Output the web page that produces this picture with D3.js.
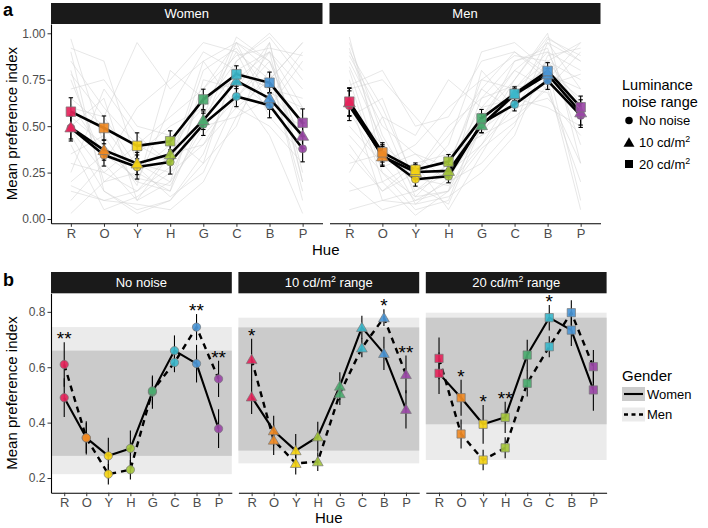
<!DOCTYPE html>
<html><head><meta charset="utf-8">
<script src="https://cdn.jsdelivr.net/npm/d3@7"></script>
<style>body{margin:0;background:#fff}svg{font-family:"Liberation Sans",Arial,Helvetica,sans-serif}</style>
</head><body><svg id="c" width="708" height="528"></svg>
<script>
// ---------- DATA ----------
const hues = ["R","O","Y","H","G","C","B","P"];
const hueColors = ["#e5245b","#f08a24","#f4d313","#a4c53b","#4bab6f","#3cb9cc","#4b96d6","#9a47a6"];
const genders = ["Women","Men"];
const noiseLegend = [["No noise",""],["10 cd/m","2"],["20 cd/m","2"]];
const stripB = [["No noise",""," "],["10 cd/m","2"," range"],["20 cd/m","2"," range"]];
const yTicksA = [0,0.25,0.5,0.75,1];
const yTicksB = [0.2,0.4,0.6,0.8];

const womenNone   = [0.490,0.345,0.280,0.307,0.510,0.660,0.613,0.378];
const womenNoneSE = [0.070,0.060,0.065,0.065,0.060,0.055,0.068,0.070];
const women10     = [0.493,0.371,0.299,0.349,0.532,0.744,0.650,0.448];
const women10SE   = [0.062,0.054,0.060,0.054,0.050,0.042,0.060,0.069];
const women20     = [0.578,0.490,0.394,0.419,0.644,0.779,0.734,0.518];
const women20SE   = [0.075,0.065,0.070,0.056,0.055,0.046,0.057,0.075];
const menNone     = [0.610,0.345,0.214,0.230,0.515,0.617,0.745,0.558];
const menNoneSE   = [0.080,0.055,0.037,0.035,0.050,0.035,0.047,0.065];
const men10       = [0.628,0.337,0.253,0.259,0.505,0.670,0.779,0.574];
const men10SE     = [0.075,0.054,0.040,0.034,0.041,0.034,0.030,0.068];
const men20       = [0.632,0.359,0.265,0.309,0.542,0.674,0.797,0.602];
const men20SE     = [0.075,0.052,0.037,0.038,0.048,0.038,0.045,0.060];

const sigNone = ["**","","","","","","**","**"];
const sig10   = ["*","","","","","","*","**"];
const sig20   = ["","*","*","**","","*","",""];

// individual participants (light grey lines), read approximately
const womenIndividuals = [
 [0.97,0.40,0.20,0.15,0.55,0.80,0.90,0.60],[0.92,0.85,0.30,0.25,0.40,0.70,0.95,0.20],
 [0.03,0.20,0.25,0.40,0.60,0.90,0.75,0.95],[0.75,0.30,0.10,0.20,0.70,0.95,0.85,0.40],
 [0.60,0.55,0.95,0.70,0.85,0.60,0.50,0.30],[0.45,0.15,0.05,0.10,0.30,0.85,0.98,0.75],
 [0.30,0.25,0.15,0.35,0.65,0.75,0.60,0.85],[0.85,0.60,0.40,0.30,0.50,0.95,0.80,0.10],
 [0.15,0.10,0.08,0.05,0.20,0.55,0.65,0.90],[0.55,0.40,0.20,0.60,0.90,0.80,0.70,0.45],
 [0.70,0.75,0.50,0.45,0.30,0.50,0.95,0.25],[0.20,0.35,0.30,0.20,0.45,0.65,0.90,0.70],
 [0.40,0.05,0.12,0.25,0.55,0.98,0.85,0.55],[0.65,0.50,0.25,0.15,0.75,0.70,0.45,0.03],
 [0.80,0.20,0.35,0.50,0.60,0.85,1.00,0.80],[0.10,0.30,0.60,0.75,0.95,0.90,0.55,0.35],
 [0.50,0.65,0.10,0.35,0.40,0.60,0.75,0.95],[0.35,0.45,0.18,0.80,0.65,0.75,0.90,0.20],
 [0.90,0.15,0.03,0.10,0.35,0.80,0.70,0.65],[0.25,0.70,0.45,0.30,0.85,0.95,0.60,0.50],
 [0.62,0.35,0.22,0.18,0.50,0.55,0.80,0.15],[0.48,0.25,0.40,0.55,0.70,0.88,0.92,0.88],
 [0.78,0.55,0.28,0.12,0.25,0.65,0.85,0.40],[0.18,0.10,0.15,0.28,0.80,0.92,0.68,0.60]
];
const menIndividuals = [
 [0.98,0.30,0.10,0.15,0.50,0.70,0.90,0.80],[0.90,0.60,0.20,0.25,0.40,0.60,0.85,0.95],
 [0.05,0.10,0.15,0.30,0.60,0.80,0.95,0.70],[0.80,0.25,0.05,0.10,0.55,0.75,1.00,0.30],
 [0.70,0.75,0.55,0.35,0.45,0.55,0.70,0.90],[0.40,0.15,0.30,0.05,0.35,0.65,0.80,0.60],
 [0.60,0.40,0.25,0.45,0.70,0.90,0.75,0.05],[0.85,0.50,0.35,0.20,0.30,0.50,0.95,0.85],
 [0.20,0.05,0.10,0.20,0.65,0.85,0.90,0.55],[0.75,0.20,0.02,0.15,0.80,0.60,0.65,0.45],
 [0.50,0.30,0.40,0.60,0.75,0.70,0.85,0.75],[0.95,0.45,0.15,0.25,0.55,0.80,0.70,0.20],
 [0.30,0.35,0.20,0.40,0.90,0.95,0.80,0.65],[0.65,0.10,0.08,0.12,0.25,0.45,0.88,0.92],
 [0.88,0.55,0.45,0.75,0.60,0.65,0.60,0.50],[0.15,0.20,0.30,0.35,0.45,0.75,0.98,0.85],
 [0.55,0.65,0.18,0.08,0.50,0.85,0.92,0.40],[0.45,0.25,0.12,0.30,0.70,0.58,0.75,0.95],
 [0.92,0.38,0.22,0.18,0.40,0.68,0.82,0.10],[0.72,0.80,0.50,0.55,0.85,0.90,0.78,0.70],
 [0.35,0.15,0.25,0.50,0.65,0.72,0.68,0.30],[0.82,0.42,0.08,0.22,0.48,0.62,0.97,0.88],
 [0.58,0.28,0.35,0.28,0.75,0.88,0.85,0.62],[0.25,0.55,0.12,0.15,0.38,0.52,0.72,0.78]
];

// ---------- BUILD ----------
const svg = d3.select("#c");
const shapes = [d3.symbolCircle, d3.symbolTriangle, d3.symbolSquare];
const sizesA = [50, 62, 90];
const sizesB = [54, 50, 68];
const tickCol = "#333", labCol = "#4d4d4d";

function rich(sel, parts, size) {
  let sup = false;
  parts.forEach((p, i) => {
    if (!p) return;
    if (i === 1) { sel.append("tspan").attr("dy", -size*0.38).attr("font-size", size*0.68).text(p); sup = true; }
    else { const t = sel.append("tspan").text(p); if (sup) { t.attr("dy", size*0.38); sup = false; } }
  });
}
function strip(x0, x1, y0, y1, parts) {
  svg.append("rect").attr("x", x0).attr("y", y0).attr("width", x1-x0).attr("height", y1-y0).attr("fill", "#1a1a1a");
  const t = svg.append("text").attr("x", (x0+x1)/2).attr("y", (y0+y1)/2 + 4.6)
    .attr("text-anchor", "middle").attr("fill", "#fff").attr("font-size", 13);
  rich(t, parts, 13);
}
function styleAxis(g) {
  g.select(".domain").attr("stroke", "#000").attr("stroke-width", 1.1);
  g.selectAll(".tick line").attr("stroke", tickCol).attr("stroke-width", 1);
  g.selectAll(".tick text").attr("fill", labCol).attr("font-family", "Liberation Sans, Arial, sans-serif");
}

// ===== PANEL A =====
const A = {top: 24, bottom: 223.3, stripTop: 3, panels: [[51,322.5],[329.5,600.5]]};
const yA = d3.scaleLinear().domain([-0.023, 1.05]).range([A.bottom, A.top]);
const seriesA = [[womenNone, women10, women20],[menNone, men10, men20]];
const seA = [[womenNoneSE, women10SE, women20SE],[menNoneSE, men10SE, men20SE]];
const indivA = [womenIndividuals, menIndividuals];

A.panels.forEach((p, gi) => {
  const x = d3.scalePoint().domain(hues).range(p).padding(0.6);
  strip(p[0], p[1], A.stripTop, A.top, [genders[gi]]);
  const line = d3.line().x((d, i) => x(hues[i])).y(d => yA(d));
  const g = svg.append("g");
  g.selectAll(".ind").data(indivA[gi]).join("path")
    .attr("d", line).attr("fill", "none").attr("stroke", "#d4d4d4").attr("stroke-opacity", 0.55).attr("stroke-width", 1);
  seriesA[gi].forEach((s, ni) => {
    s.forEach((v, i) => {
      const se = seA[gi][ni][i], cx = x(hues[i]);
      g.append("line").attr("x1", cx).attr("x2", cx).attr("y1", yA(v - se)).attr("y2", yA(v + se)).attr("stroke", "#000").attr("stroke-width", 1.1);
      [v - se, v + se].forEach(e => g.append("line").attr("x1", cx - 2.2).attr("x2", cx + 2.2).attr("y1", yA(e)).attr("y2", yA(e)).attr("stroke", "#000").attr("stroke-width", 1.1));
    });
  });
  seriesA[gi].forEach(s => g.append("path").attr("d", line(s)).attr("fill", "none").attr("stroke", "#000").attr("stroke-width", 2.6).attr("stroke-linejoin", "round"));
  seriesA[gi].forEach((s, ni) => {
    g.selectAll(null).data(s).join("path")
      .attr("d", d3.symbol().type(shapes[ni]).size(sizesA[ni]))
      .attr("transform", (d, i) => `translate(${x(hues[i])},${yA(d) + (ni === 1 ? 1 : 0)})`)
      .attr("fill", (d, i) => hueColors[i]).attr("fill-opacity", 0.92)
      .attr("stroke", "#777").attr("stroke-width", 0.7);
  });
  const ax = svg.append("g").attr("transform", `translate(0,${A.bottom})`)
    .call(d3.axisBottom(x).tickSize(3.5).tickSizeOuter(0).tickPadding(2)).attr("font-size", 13);
  styleAxis(ax);
  if (gi === 0) {
    const ay = svg.append("g").attr("transform", `translate(${p[0]},0)`)
      .call(d3.axisLeft(yA).tickValues(yTicksA).tickFormat(d3.format(".2f")).tickSize(3.5).tickSizeOuter(0).tickPadding(2)).attr("font-size", 12);
    styleAxis(ay);
  }
});
svg.append("text").attr("transform", `translate(17,${(A.top + A.bottom)/2}) rotate(-90)`)
  .attr("text-anchor", "middle").attr("font-size", 15).attr("fill", "#000").text("Mean preference index");
svg.append("text").attr("x", (A.panels[0][0] + A.panels[1][1])/2).attr("y", 255).attr("text-anchor", "middle")
  .attr("font-size", 15).text("Hue");
svg.append("text").attr("x", 3).attr("y", 16).attr("font-size", 18).attr("font-weight", "bold").text("a");

// legend A
svg.append("text").attr("x", 622).attr("y", 90).attr("font-size", 14.5).text("Luminance");
svg.append("text").attr("x", 622).attr("y", 107).attr("font-size", 14.5).text("noise range");
[120.5, 142.5, 164].forEach((cy, i) => {
  svg.append("path").attr("d", d3.symbol().type(shapes[i]).size([44, 52, 64][i])).attr("transform", `translate(629,${cy + (i === 1 ? 1 : 0)})`).attr("fill", "#000");
  const t = svg.append("text").attr("x", 639).attr("y", cy + 4.6).attr("font-size", 13);
  rich(t, noiseLegend[i], 13);
});

// ===== PANEL B =====
const B = {top: 293.3, bottom: 492.7, stripTop: 272, panels: [[51,231.8],[238.4,419.2],[425.8,606.6]]};
const yB = d3.scaleLinear().domain([0.147, 0.867]).range([B.bottom, B.top]);
const womenB = [womenNone, women10, women20], womenBSE = [womenNoneSE, women10SE, women20SE];
const menB = [menNone, men10, men20], menBSE = [menNoneSE, men10SE, men20SE];
const sigB = [sigNone, sig10, sig20];

B.panels.forEach((p, ni) => {
  const x = d3.scalePoint().domain(hues).range(p).padding(0.6);
  strip(p[0], p[1], B.stripTop, B.top, stripB[ni]);
  const g = svg.append("g");
  const mExt = d3.extent(menB[ni]), wExt = d3.extent(womenB[ni]);
  g.append("rect").attr("x", p[0]).attr("width", p[1]-p[0]).attr("y", yB(mExt[1])).attr("height", yB(mExt[0]) - yB(mExt[1])).attr("fill", "#ebebeb");
  g.append("rect").attr("x", p[0]).attr("width", p[1]-p[0]).attr("y", yB(wExt[1])).attr("height", yB(wExt[0]) - yB(wExt[1])).attr("fill", "#cbcbcb");
  const line = d3.line().x((d, i) => x(hues[i])).y(d => yB(d));
  [[womenB[ni], womenBSE[ni]], [menB[ni], menBSE[ni]]].forEach(([s, se]) => {
    s.forEach((v, i) => g.append("line").attr("x1", x(hues[i])).attr("x2", x(hues[i]))
      .attr("y1", yB(v - se[i])).attr("y2", yB(v + se[i])).attr("stroke", "#000").attr("stroke-width", 1.1));
  });
  g.append("path").attr("d", line(menB[ni])).attr("fill", "none").attr("stroke", "#000").attr("stroke-width", 2.4).attr("stroke-dasharray", "6,5");
  g.append("path").attr("d", line(womenB[ni])).attr("fill", "none").attr("stroke", "#000").attr("stroke-width", 2.1).attr("stroke-linejoin", "round");
  [womenB[ni], menB[ni]].forEach(s => {
    g.selectAll(null).data(s).join("path")
      .attr("d", d3.symbol().type(shapes[ni]).size(sizesB[ni]))
      .attr("transform", (d, i) => `translate(${x(hues[i])},${yB(d) + (ni === 1 ? 1 : 0)})`)
      .attr("fill", (d, i) => hueColors[i]).attr("fill-opacity", 0.92)
      .attr("stroke", "#777").attr("stroke-width", 0.7);
  });
  sigB[ni].forEach((s, i) => {
    if (!s) return;
    const up = Math.max(womenB[ni][i] + womenBSE[ni][i], menB[ni][i] + menBSE[ni][i]);
    g.append("text").attr("x", x(hues[i])).attr("y", yB(up) + 3).attr("text-anchor", "middle")
      .attr("font-size", 19).attr("fill", "#000").text(s);
  });
  const ax = svg.append("g").attr("transform", `translate(0,${B.bottom})`)
    .call(d3.axisBottom(x).tickSize(3.5).tickSizeOuter(0).tickPadding(2)).attr("font-size", 13);
  styleAxis(ax);
  if (ni === 0) {
    const ay = svg.append("g").attr("transform", `translate(${p[0]},0)`)
      .call(d3.axisLeft(yB).tickValues(yTicksB).tickFormat(d3.format(".1f")).tickSize(3.5).tickSizeOuter(0).tickPadding(2)).attr("font-size", 12);
    styleAxis(ay);
  }
});
svg.append("text").attr("transform", `translate(17,${(B.top + B.bottom)/2}) rotate(-90)`)
  .attr("text-anchor", "middle").attr("font-size", 15).attr("fill", "#000").text("Mean preference index");
svg.append("text").attr("x", (B.panels[0][0] + B.panels[2][1])/2).attr("y", 523).attr("text-anchor", "middle")
  .attr("font-size", 15).text("Hue");
svg.append("text").attr("x", 3).attr("y", 286).attr("font-size", 18).attr("font-weight", "bold").text("b");

// legend B
svg.append("text").attr("x", 622).attr("y", 380.5).attr("font-size", 15).text("Gender");
const keyFill = ["#cbcbcb", "#ebebeb"], keyDash = [null, "4,3.5"];
[394, 414.5].forEach((cy, i) => {
  svg.append("rect").attr("x", 622).attr("y", cy - 7).attr("width", 23).attr("height", 14).attr("fill", keyFill[i]);
  svg.append("line").attr("x1", 624).attr("x2", 643).attr("y1", cy).attr("y2", cy).attr("stroke", "#000")
    .attr("stroke-width", i ? 2.4 : 2.1).attr("stroke-dasharray", keyDash[i]);
  svg.append("text").attr("x", 647).attr("y", cy + 4.6).attr("font-size", 13).text(genders[i]);
});
</script></body></html>
